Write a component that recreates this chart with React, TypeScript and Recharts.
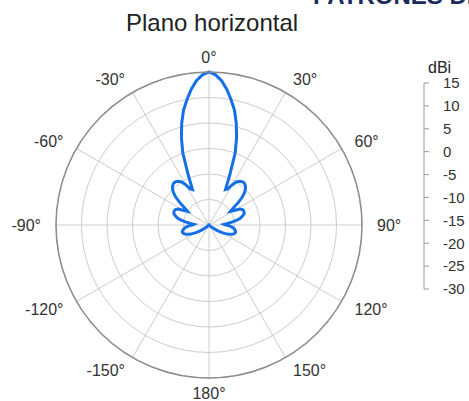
import { RadarChart, PolarGrid, PolarAngleAxis, PolarRadiusAxis, Radar, LineChart, Line, XAxis, YAxis } from 'recharts';

const angles = [
  -180, -175, -170, -165, -160, -155, -150, -145, -140, -135,
  -130, -127.5, -125, -122.5, -120, -117.5, -115, -112.5, -110, -107.5,
  -105, -102.5, -100, -97.5, -95, -92.5, -90, -87.5, -85, -82.5,
  -80, -77.5, -75, -72.5, -70, -67.5, -65, -62.5, -60, -57.5,
  -55, -52.5, -50, -47.5, -45, -42.5, -40, -37.5, -35, -32.5,
  -30, -27.5, -25, -22.5, -20, -17.5, -15, -12.5, -10, -7.5,
  -5, -2.5, 0, 2.5, 5, 7.5, 10, 12.5, 15, 17.5,
  20, 22.5, 25, 27.5, 30, 32.5, 35, 37.5, 40, 42.5,
  45, 47.5, 50, 52.5, 55, 57.5, 60, 62.5, 65, 67.5,
  70, 72.5, 75, 77.5, 80, 82.5, 85, 87.5, 90, 92.5,
  95, 97.5, 100, 102.5, 105, 107.5, 110, 112.5, 115, 117.5,
  120, 122.5, 125, 127.5, 130,
  135, 140, 145, 150, 155, 160, 165, 170, 175,
];
const gain = [
  -30, -30, -30, -30, -30, -30, -30, -30, -30, -30,
  -29.3, -28.5, -27.5, -26.5, -25.5, -24.5, -23.5, -22.8, -22.3, -22,
  -21.9, -22, -22.3, -22.7, -23.2, -24, -25, -25.5, -24.5, -23,
  -21.5, -20.5, -19.8, -19.2, -19, -19, -19.2, -19.8, -21.5, -22.5,
  -21.2, -19.2, -17.2, -15.8, -14.8, -14.2, -13.9, -13.9, -14.3, -15,
  -16.3, -18, -18.5, -14, -7.5, -3, 1, 4.6, 7.4, 10.2,
  12.6, 14.2, 15, 14.2, 12.6, 10.2, 7.4, 4.6, 1, -3,
  -7.5, -14, -18.5, -18, -16.3, -15, -14.3, -13.9, -13.9, -14.2,
  -14.8, -15.8, -17.2, -19.2, -21.2, -22.5, -21.5, -19.8, -19.2, -19,
  -19, -19.2, -19.8, -20.5, -21.5, -23, -24.5, -25.5, -25, -24,
  -23.2, -22.7, -22.3, -22, -21.9, -22, -22.3, -22.8, -23.5, -24.5,
  -25.5, -26.5, -27.5, -28.5, -29.3,
  -30, -30, -30, -30, -30, -30, -30, -30, -30,
];
const angleTicks = [-150, -120, -90, -60, -30, 0, 30, 60, 90, 120, 150, 180];
const ringTicks = [-22.5, -15, -7.5, 0, 7.5, 15];
const dbiTicks = [15, 10, 5, 0, -5, -10, -15, -20, -25, -30];

const pattern = angles.map((a, i) => ({ angle: a, gain: gain[i] }));
const scaleData = dbiTicks.map((v, i) => ({ i, v }));

const FONT = "'Liberation Sans', Arial, sans-serif";

function AngleTick(props: any) {
  const { x, y, payload, textAnchor } = props;
  return (
    <text x={x} y={y} textAnchor={textAnchor} dominantBaseline="central" fontSize={16} fill="#333">
      {payload.value}°
    </text>
  );
}

export default function App() {
  return (
    <div style={{ position: 'absolute', left: 0, top: 0, width: 469, height: 401, background: '#fff', overflow: 'hidden', fontFamily: FONT }}>
      {/* cut-off page heading */}
      <div style={{ position: 'absolute', left: 313, top: -16, fontSize: 24, lineHeight: '24px', fontWeight: 700, color: '#1b2b60', whiteSpace: 'nowrap' }}>
        PATRONES DE
      </div>
      <div style={{ position: 'absolute', left: 126, top: 11, fontSize: 24, lineHeight: '24px', color: '#222', whiteSpace: 'nowrap' }}>
        Plano horizontal
      </div>

      <div style={{ position: 'absolute', left: 0, top: 0 }}>
        <RadarChart width={420} height={401} data={pattern} cx={209} cy={225} outerRadius={153} startAngle={270} endAngle={-90}>
          <PolarGrid gridType="circle" stroke="#cccccc" strokeWidth={1} />
          <PolarRadiusAxis type="number" domain={[-30, 15]} ticks={ringTicks} tick={false} axisLine={false} tickLine={false} />
          <PolarAngleAxis
            dataKey="angle"
            type="number"
            domain={[-180, 180]}
            ticks={angleTicks}
            tick={<AngleTick />}
            tickSize={15}
            tickLine={false}
            axisLineType="circle"
            axisLine={{ stroke: '#8c8c8c', strokeWidth: 1.5 }}
          />
          <Radar dataKey="gain" stroke="#1570e8" strokeWidth={3} fill="none" fillOpacity={0} dot={false} isAnimationActive={false} />
        </RadarChart>
      </div>

      {/* dBi scale */}
      <div style={{ position: 'absolute', left: 428, top: 59, fontSize: 16, lineHeight: '18px', color: '#222' }}>dBi</div>
      <div style={{ position: 'absolute', left: 400, top: 60 }}>
        <LineChart width={69} height={250} data={scaleData} margin={{ top: 23, right: 0, bottom: 21, left: 0 }}>
          <XAxis dataKey="i" hide />
          <YAxis
            orientation="right"
            type="number"
            domain={[-30, 15]}
            ticks={dbiTicks}
            interval={0}
            width={45}
            tickSize={5}
            tickMargin={14}
            axisLine={{ stroke: '#999' }}
            tickLine={{ stroke: '#999' }}
            tick={{ fill: '#333', fontSize: 15 }}
          />
          <Line dataKey="v" stroke="none" dot={false} activeDot={false} isAnimationActive={false} />
        </LineChart>
      </div>
    </div>
  );
}
